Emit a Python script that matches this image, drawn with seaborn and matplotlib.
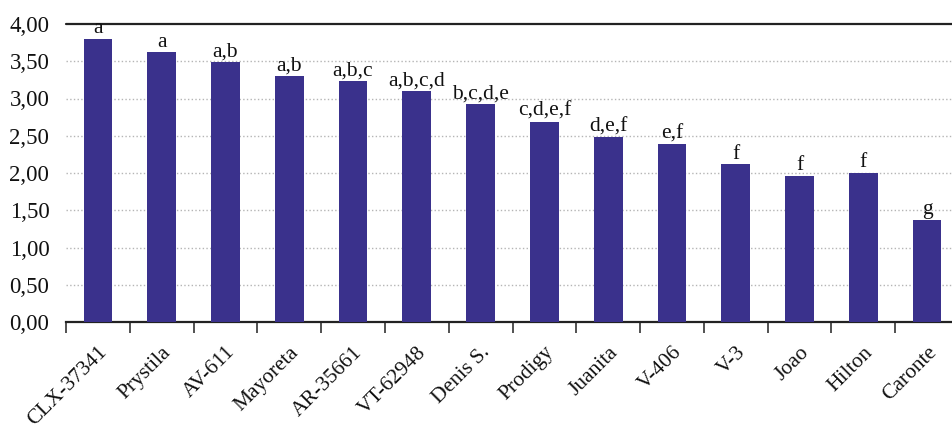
import matplotlib
matplotlib.use("Agg")
import matplotlib.pyplot as plt
import matplotlib.ticker as mticker
import seaborn as sns

sns.set_style("white")
plt.rcParams["font.family"] = ["Liberation Serif", "DejaVu Serif"]

# ---------------------------------------------------------
# Data
# ---------------------------------------------------------
cultivars = ["CLX-37341", "Prystila", "AV-611", "Mayoreta", "AR-35661",
             "VT-62948", "Denis S.", "Prodigy", "Juanita", "V-406",
             "V-3", "Joao", "Hilton", "Caronte"]
values = [3.80, 3.62, 3.49, 3.30, 3.24, 3.10, 2.93, 2.69, 2.48, 2.39,
          2.12, 1.96, 2.00, 1.37]
groups = ["a", "a", "a,b", "a,b", "a,b,c", "a,b,c,d", "b,c,d,e",
          "c,d,e,f", "d,e,f", "e,f", "f", "f", "f", "g"]
y_ticks = [0, 0.5, 1.0, 1.5, 2.0, 2.5, 3.0, 3.5, 4.0]

bar_color = "#3a318c"

fig = plt.figure(figsize=(9.52, 4.32), dpi=100)
ax = fig.add_axes([66 / 952, 110 / 432, 893 / 952, 298 / 432])

sns.barplot(x=cultivars, y=values, color=bar_color, saturation=1,
            width=0.45, linewidth=0, ax=ax, zorder=3)

ax.set_xlim(-0.5, len(cultivars) - 0.5)
ax.set_ylim(0, 4)

# grid: dotted light lines, solid line on top
for yv in y_ticks[1:-1]:
    ax.axhline(yv, color="#b5b5b5", lw=1, ls=":", zorder=1)
ax.axhline(4, color="#222222", lw=1.6, zorder=2, clip_on=False)

for side in ["top", "right", "left"]:
    ax.spines[side].set_visible(False)
ax.spines["bottom"].set_color("#222222")
ax.spines["bottom"].set_linewidth(1.6)

ax.set_yticks(y_ticks)
ax.yaxis.set_major_formatter(
    mticker.FuncFormatter(lambda v, p: f"{v:.2f}".replace(".", ","))
)
ax.tick_params(axis="y", length=0, pad=12, labelsize=16.5, colors="#111111")

# labels at bar centres, tick marks at category boundaries
ax.set_xticks(range(len(cultivars)))
ax.set_xticklabels(cultivars, rotation=45, ha="right",
                   rotation_mode="anchor", fontsize=15.5)
ax.tick_params(axis="x", which="major", bottom=True, length=0, pad=15,
               colors="#111111")
ax.set_xticks([i - 0.5 for i in range(len(cultivars) + 1)], minor=True)
ax.tick_params(axis="x", which="minor", bottom=True, length=8, width=1.2,
               direction="out", color="#333333")
ax.set_xlabel("")
ax.set_ylabel("")

# significance letters
for i, (v, g) in enumerate(zip(values, groups)):
    ax.annotate(g, (i, v), xytext=(0, 4), textcoords="offset points",
                ha="center", va="baseline", fontsize=15.5, color="#111111",
                zorder=4)

fig.savefig("out.png", dpi=100)
